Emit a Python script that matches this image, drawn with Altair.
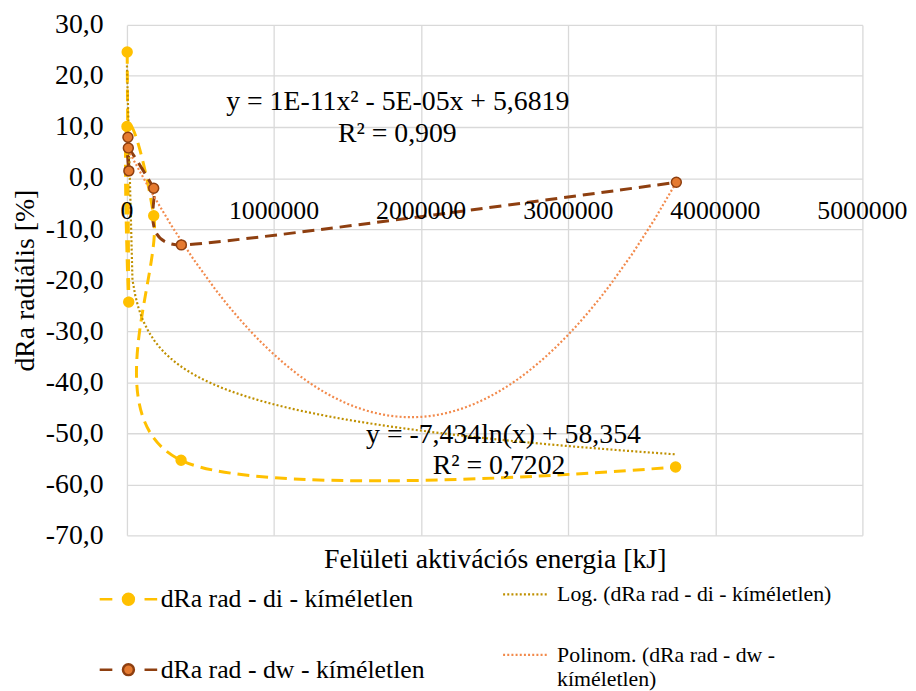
import altair as alt
import pandas as pd

# ---------------- data ----------------
series_names = ["dRa rad - di - kíméletlen", "dRa rad - dw - kíméletlen"]
trend_names = ["Log. (dRa rad - di - kíméletlen)", "Polinom. (dRa rad - dw - kíméletlen)"]

di_x = [1620, 12100, 132, 182000, 368000, 3730000]
di_y = [24.7, -24.3, 10.1, -7.4, -55.3, -56.6]

dw_x = [6700, 13000, 9400, 182000, 370000, 3735000]
dw_y = [8.0, 1.4, 5.9, -2.0, -13.1, -0.84]

x_ticks = [0, 1000000, 2000000, 3000000, 4000000, 5000000]
x_tick_labels = ["0", "1000000", "2000000", "3000000", "4000000", "5000000"]
y_ticks = [-70, -60, -50, -40, -30, -20, -10, 0, 10, 20, 30]

eq_texts = ["y = 1E-11x² - 5E-05x + 5,6819", "R² = 0,909",
            "y = -7,434ln(x) + 58,354", "R² = 0,7202"]
eq_x = [1841000, 1838000, 2560000, 2530000]
eq_y = [14.8, 8.7, -50.4, -56.4]

# ---------------- styling ----------------
FONT = "Liberation Serif"
YELLOW = "#FFC000"
BROWN_LINE = "#8E3F10"
BROWN_FILL = "#E57A30"
LOG_COL = "#BF9000"
POLY_COL = "#F28A4C"
GRID = "#D9D9D9"

di = pd.DataFrame({"x": di_x, "y": di_y, "series": series_names[0], "idx": list(range(len(di_x)))})
dw = pd.DataFrame({"x": dw_x, "y": dw_y, "series": series_names[1], "idx": list(range(len(dw_x)))})
pts = pd.concat([di, dw], ignore_index=True)
ticks_df = pd.DataFrame({"v": x_ticks, "lab": x_tick_labels})
eq_df = pd.DataFrame({"x": eq_x, "y": eq_y, "t": eq_texts})

x_scale = alt.Scale(domain=[0, 5000000], nice=False, zero=False)
y_scale = alt.Scale(domain=[-70, 30], nice=False, zero=False)

x_axis = alt.Axis(values=x_ticks, labels=False, ticks=False, domain=False, grid=True,
                  gridColor=GRID, gridWidth=1.3, title="Felületi aktivációs energia [kJ]",
                  titleFont=FONT, titleFontSize=28, titleFontWeight="normal",
                  titleColor="#000000", titlePadding=10)
y_axis = alt.Axis(values=y_ticks, ticks=False, domain=False, grid=True, gridColor=GRID,
                  gridWidth=1.3,
                  labelExpr="replace(replace(format(datum.value, '.1f'), '.', ','), '\u2212', '-')",
                  labelFont=FONT, labelFontSize=28, labelColor="#000000", labelPadding=24,
                  title="dRa radiális [%]", titleFont=FONT, titleFontSize=28,
                  titleFontWeight="normal", titleColor="#000000", titlePadding=6)

X = alt.X("x:Q", scale=x_scale, axis=x_axis)
Y = alt.Y("y:Q", scale=y_scale, axis=y_axis)

fill_scale = alt.Scale(domain=series_names, range=[YELLOW, BROWN_FILL])
stroke_scale = alt.Scale(domain=series_names, range=[YELLOW, BROWN_LINE])
trend_scale = alt.Scale(domain=trend_names, range=[LOG_COL, POLY_COL])

legend_a = alt.Legend(
    orient="none", legendX=-29, legendY=549, title=None, direction="vertical",
    symbolType="M-1,0H-0.56M-0.19,0A0.19,0.19,0,1,1,0.19,0A0.19,0.19,0,1,1,-0.19,0ZM0.56,0H1",
    symbolSize=3364, symbolStrokeWidth=2.5, symbolOpacity=1,
    labelFont=FONT, labelFontSize=26, labelColor="#000000", labelOffset=2,
    labelLimit=600, rowPadding=27, padding=0)

legend_b = alt.Legend(
    orient="none", legendX=378, legendY=550, title=None, direction="vertical",
    symbolType="stroke", symbolSize=2116, symbolStrokeWidth=2.2, symbolDash=[2, 2.2],
    labelFont=FONT, labelFontSize=22, labelColor="#000000", labelOffset=7,
    labelLimit=600, rowPadding=25, padding=0,
    labelExpr="datum.label == 'Polinom. (dRa rad - dw - kíméletlen)' ? "
              "['Polinom. (dRa rad - dw -', 'kíméletlen)'] : datum.label")

line_di = alt.Chart(di).mark_line(interpolate="cardinal", strokeDash=[12, 7], strokeWidth=3).encode(
    x=X, y=Y, order="idx:Q",
    stroke=alt.Stroke("series:N", scale=stroke_scale, legend=legend_a))

line_dw = alt.Chart(dw).mark_line(interpolate="cardinal", tension=0.5, strokeDash=[12, 7],
                                  strokeWidth=3).encode(
    x=X, y=Y, order="idx:Q",
    stroke=alt.Stroke("series:N", scale=stroke_scale, legend=legend_a))

trend_log = alt.Chart(di).transform_regression("x", "y", method="log").transform_calculate(
    trend=f"'{trend_names[0]}'").mark_line(strokeDash=[2, 2.2], strokeWidth=2.2).encode(
    x=X, y=Y, color=alt.Color("trend:N", scale=trend_scale, legend=legend_b))

trend_poly = alt.Chart(dw).transform_regression("x", "y", method="poly", order=2).transform_calculate(
    trend=f"'{trend_names[1]}'").mark_line(strokeDash=[2, 2.2], strokeWidth=2.2).encode(
    x=X, y=Y, color=alt.Color("trend:N", scale=trend_scale, legend=legend_b))

points = alt.Chart(pts).mark_circle(size=100, strokeWidth=1.5, opacity=1).encode(
    x=X, y=Y,
    fill=alt.Fill("series:N", scale=fill_scale, legend=legend_a),
    stroke=alt.Stroke("series:N", scale=stroke_scale, legend=legend_a))

eq_text = alt.Chart(eq_df).mark_text(font=FONT, fontSize=28, align="center", baseline="middle",
                                     color="#000000").encode(x=X, y=Y, text="t:N")

tick_text = alt.Chart(ticks_df).mark_text(font=FONT, fontSize=26, align="center",
                                          baseline="alphabetic", dy=41, color="#000000").encode(
    x=alt.X("v:Q", scale=x_scale, axis=x_axis), y=alt.datum(0), text="lab:N")

chart = alt.layer(line_di, line_dw, trend_log, trend_poly, points, eq_text, tick_text).properties(
    width=742, height=515, padding={"left": 3, "top": 0, "right": 0, "bottom": 0},
    background="white"
).configure_view(stroke=None)

chart.save("out.html", embed_options={"renderer": "svg", "actions": False})
